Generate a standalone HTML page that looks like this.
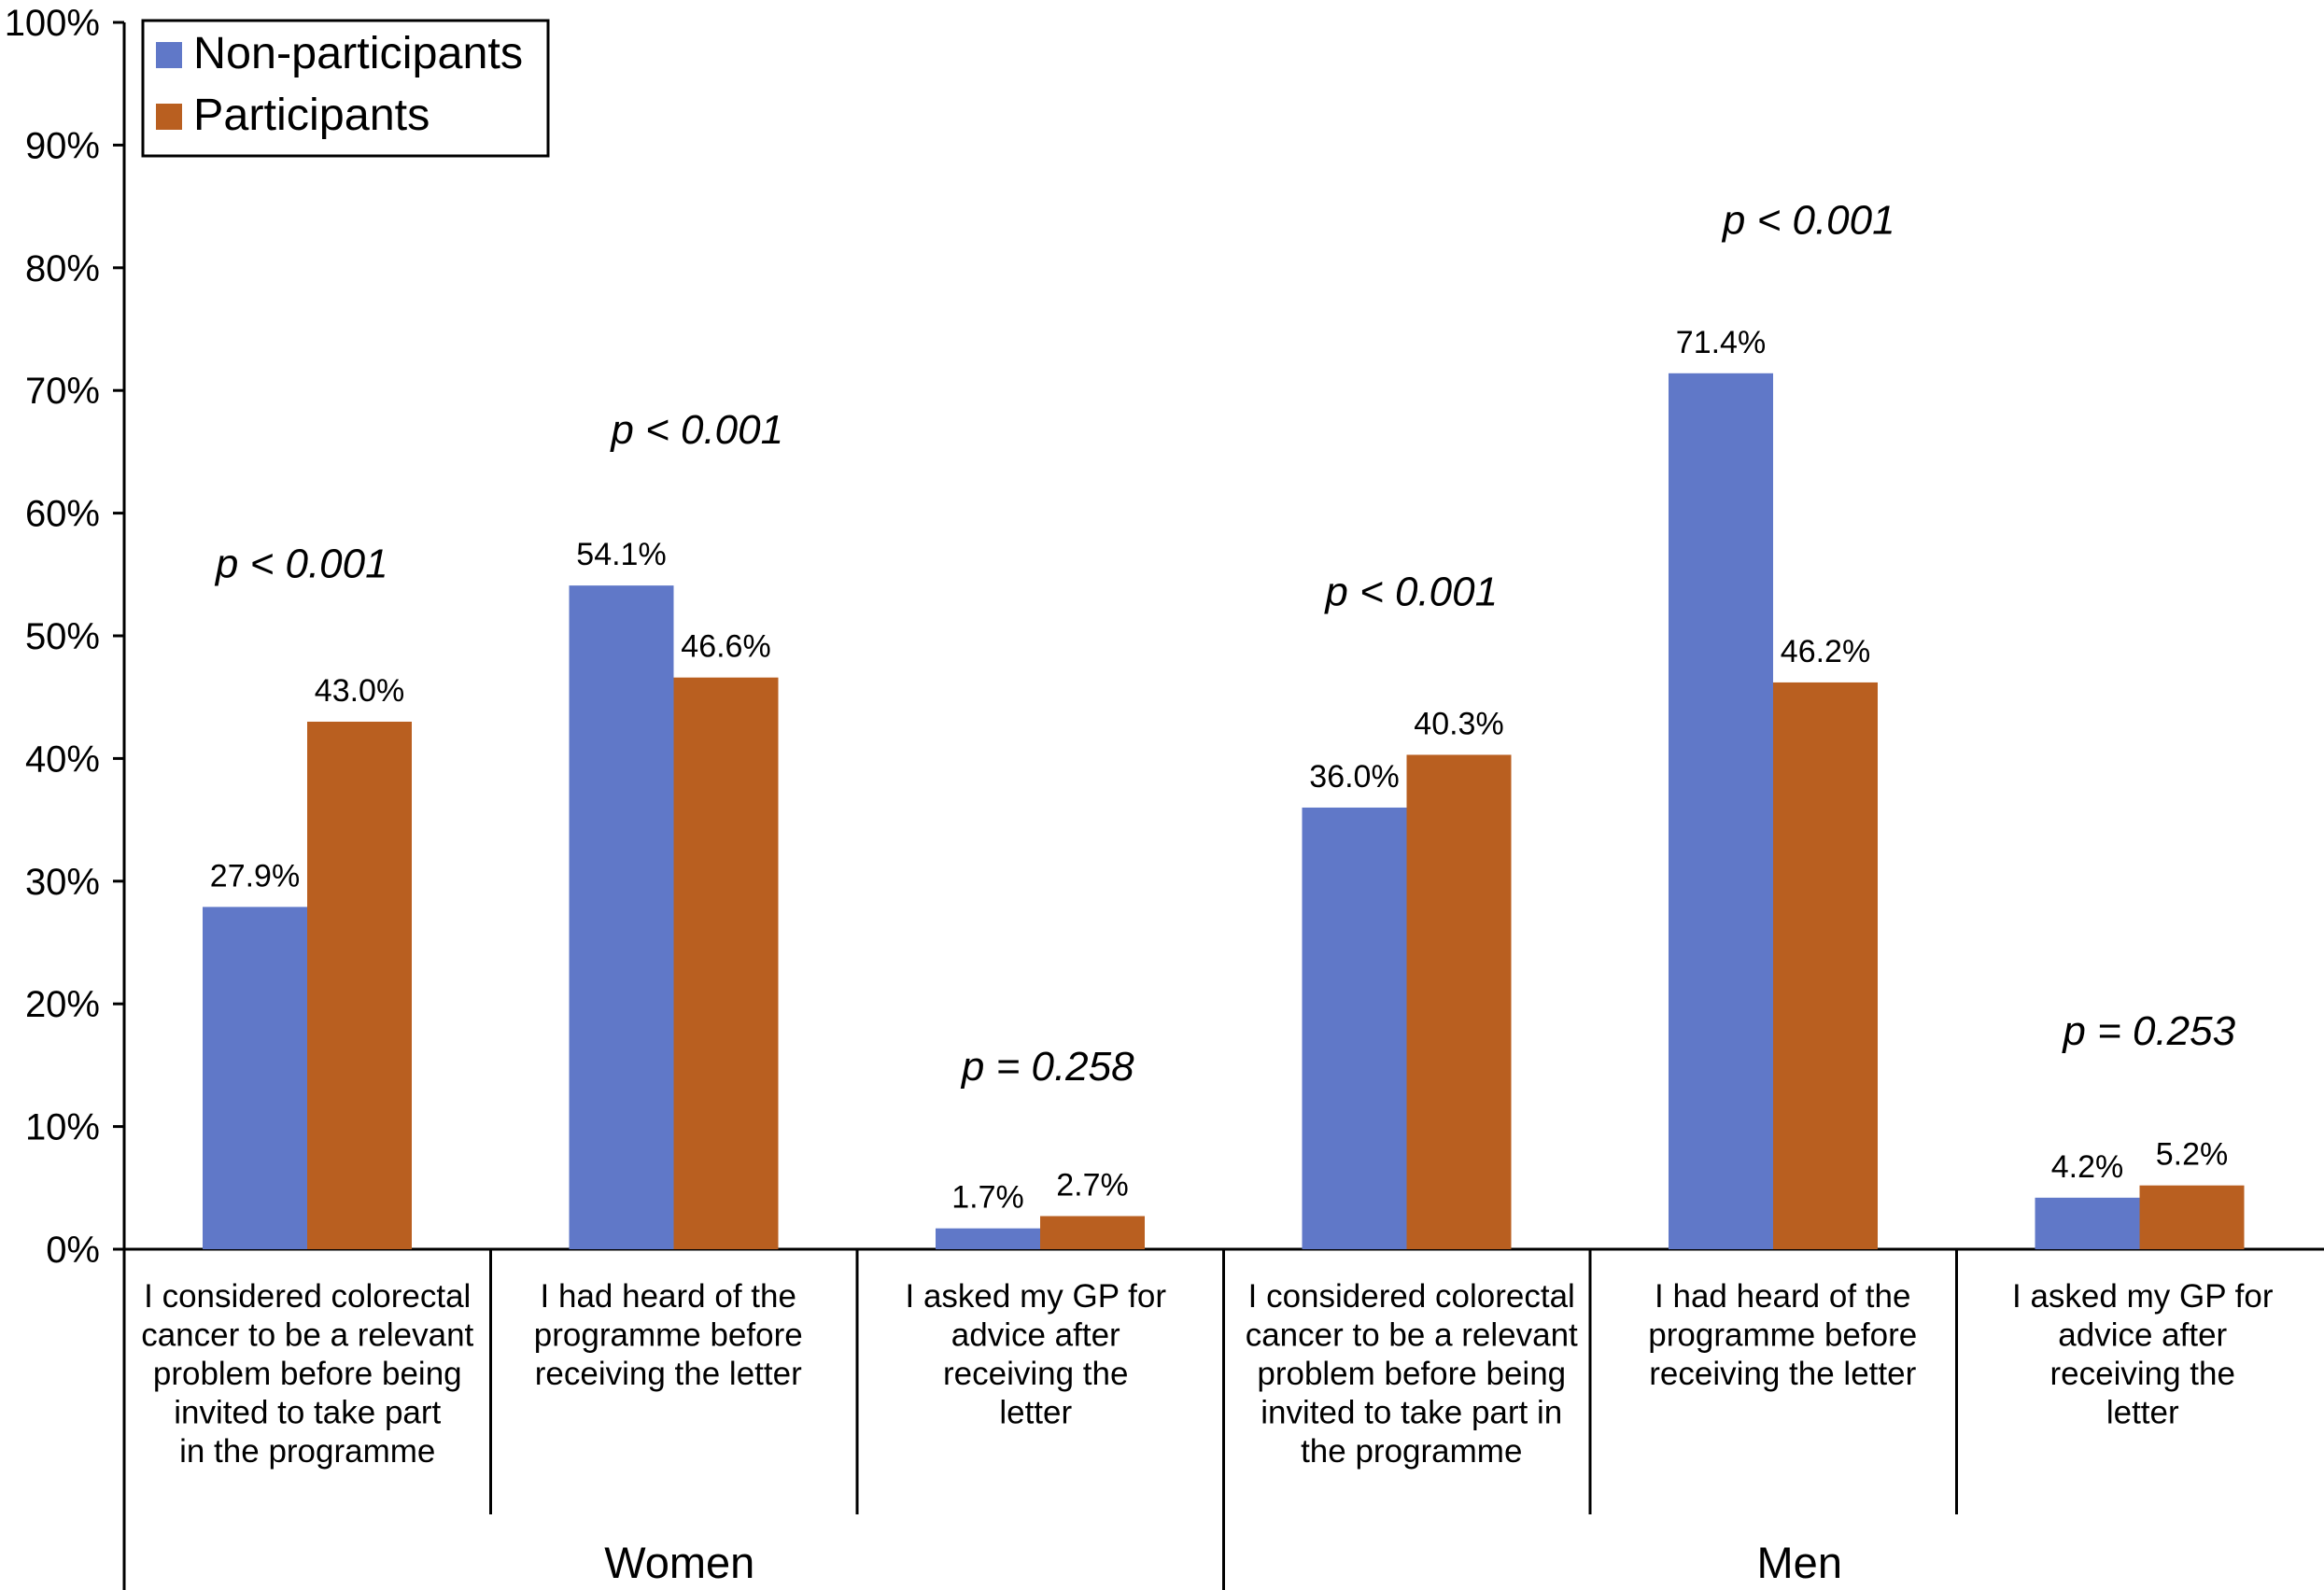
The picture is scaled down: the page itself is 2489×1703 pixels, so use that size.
<!DOCTYPE html>
<html><head><meta charset="utf-8"><style>
html,body{margin:0;padding:0;background:#fff;}
svg{display:block;font-family:"Liberation Sans",Arial,sans-serif;}
</style></head><body>
<svg id="chart" width="2489" height="1703" viewBox="0 0 2489 1703"></svg>
<script>
const categories = [
 ["I considered colorectal","cancer to be a relevant","problem before being","invited to take part","in the programme"],
 ["I had heard of the","programme before","receiving the letter"],
 ["I asked my GP for","advice after","receiving the","letter"],
 ["I considered colorectal","cancer to be a relevant","problem before being","invited to take part in","the programme"],
 ["I had heard of the","programme before","receiving the letter"],
 ["I asked my GP for","advice after","receiving the","letter"]
];
const groups = ["Women","Men"];
const nonParticipants = [27.9, 54.1, 1.7, 36.0, 71.4, 4.2];
const participants = [43.0, 46.6, 2.7, 40.3, 46.2, 5.2];
const pLabels = ["p < 0.001","p < 0.001","p = 0.258","p < 0.001","p < 0.001","p = 0.253"];
const pLevel = [55.9, 66.8, 14.9, 53.6, 83.9, 17.8];
const yTicks = [0,10,20,30,40,50,60,70,80,90,100];

const NS="http://www.w3.org/2000/svg";
const svg=document.getElementById('chart');
const X0=133, GW=392.5, Y0=1338, Y100=24;
const yS=v=>Y0-(Y0-Y100)*v/100;
const gx=i=>X0+GW*i;
const BW=112, BOFF=84;
const pShift=[-6,25,8,5,38,10];
const catShift=[0,-6,-5,5,10,3];
const grpShift=[6,28];
function el(t,a,txt){const e=document.createElementNS(NS,t);for(const k in a)e.setAttribute(k,a[k]);if(txt!==undefined)e.textContent=txt;svg.appendChild(e);return e;}

let ax=el('line',{x1:X0,y1:Y100,x2:X0,y2:1703,stroke:'#000','stroke-width':3});


let bx=el('line',{x1:X0,y1:Y0,x2:2489,y2:Y0,stroke:'#000','stroke-width':3});


yTicks.forEach(v=>{
 let t=el('line',{x1:X0-12,y1:yS(v),x2:X0,y2:yS(v),stroke:'#000','stroke-width':3});
 
 
 let l=el('text',{x:X0-26,y:yS(v)+14,'text-anchor':'end','font-size':40},v+'%');
 
 
});
for(let i=1;i<6;i++){
 let full=(i===3);
 let d=el('line',{x1:gx(i),y1:Y0,x2:gx(i),y2:full?1703:1622,stroke:'#000','stroke-width':3});
 
 
}
categories.forEach((c,i)=>{
 const x=gx(i)+BOFF;
 let b1=el('rect',{x:x,y:yS(nonParticipants[i]),width:BW,height:Y0-yS(nonParticipants[i]),fill:'#6078c8'});
 
 
 let b2=el('rect',{x:x+BW,y:yS(participants[i]),width:BW,height:Y0-yS(participants[i]),fill:'#b95f20'});
 
 
 let v1=el('text',{x:x+BW/2,y:yS(nonParticipants[i])-22,'text-anchor':'middle','font-size':34},nonParticipants[i].toFixed(1)+'%');
 
 
 let v2=el('text',{x:x+BW*1.5,y:yS(participants[i])-22,'text-anchor':'middle','font-size':34},participants[i].toFixed(1)+'%');
 
 
 let p=el('text',{x:gx(i)+GW/2+pShift[i],y:yS(pLevel[i])+15,'text-anchor':'middle','font-size':44,'font-style':'italic'},pLabels[i]);
 
 
 c.forEach((ln,j)=>{
  let t=el('text',{x:gx(i)+GW/2+catShift[i],y:1400+j*41.5,'text-anchor':'middle','font-size':35},ln);
  
  
 });
});
groups.forEach((g,k)=>{
 let t=el('text',{x:gx(k*3)+GW*1.5+grpShift[k],y:1690,'text-anchor':'middle','font-size':47},g);
 
 
});
let lb=el('rect',{x:153,y:22,width:434,height:145,fill:'#fff',stroke:'#000','stroke-width':3});


let s1=el('rect',{x:167,y:45,width:28,height:28,fill:'#6078c8'});


let t1=el('text',{x:207,y:73,'font-size':48.5},'Non-participants');


let s2=el('rect',{x:167,y:111,width:28,height:28,fill:'#b95f20'});


let t2=el('text',{x:207,y:139,'font-size':48.5},'Participants');


</script>
</body></html>
